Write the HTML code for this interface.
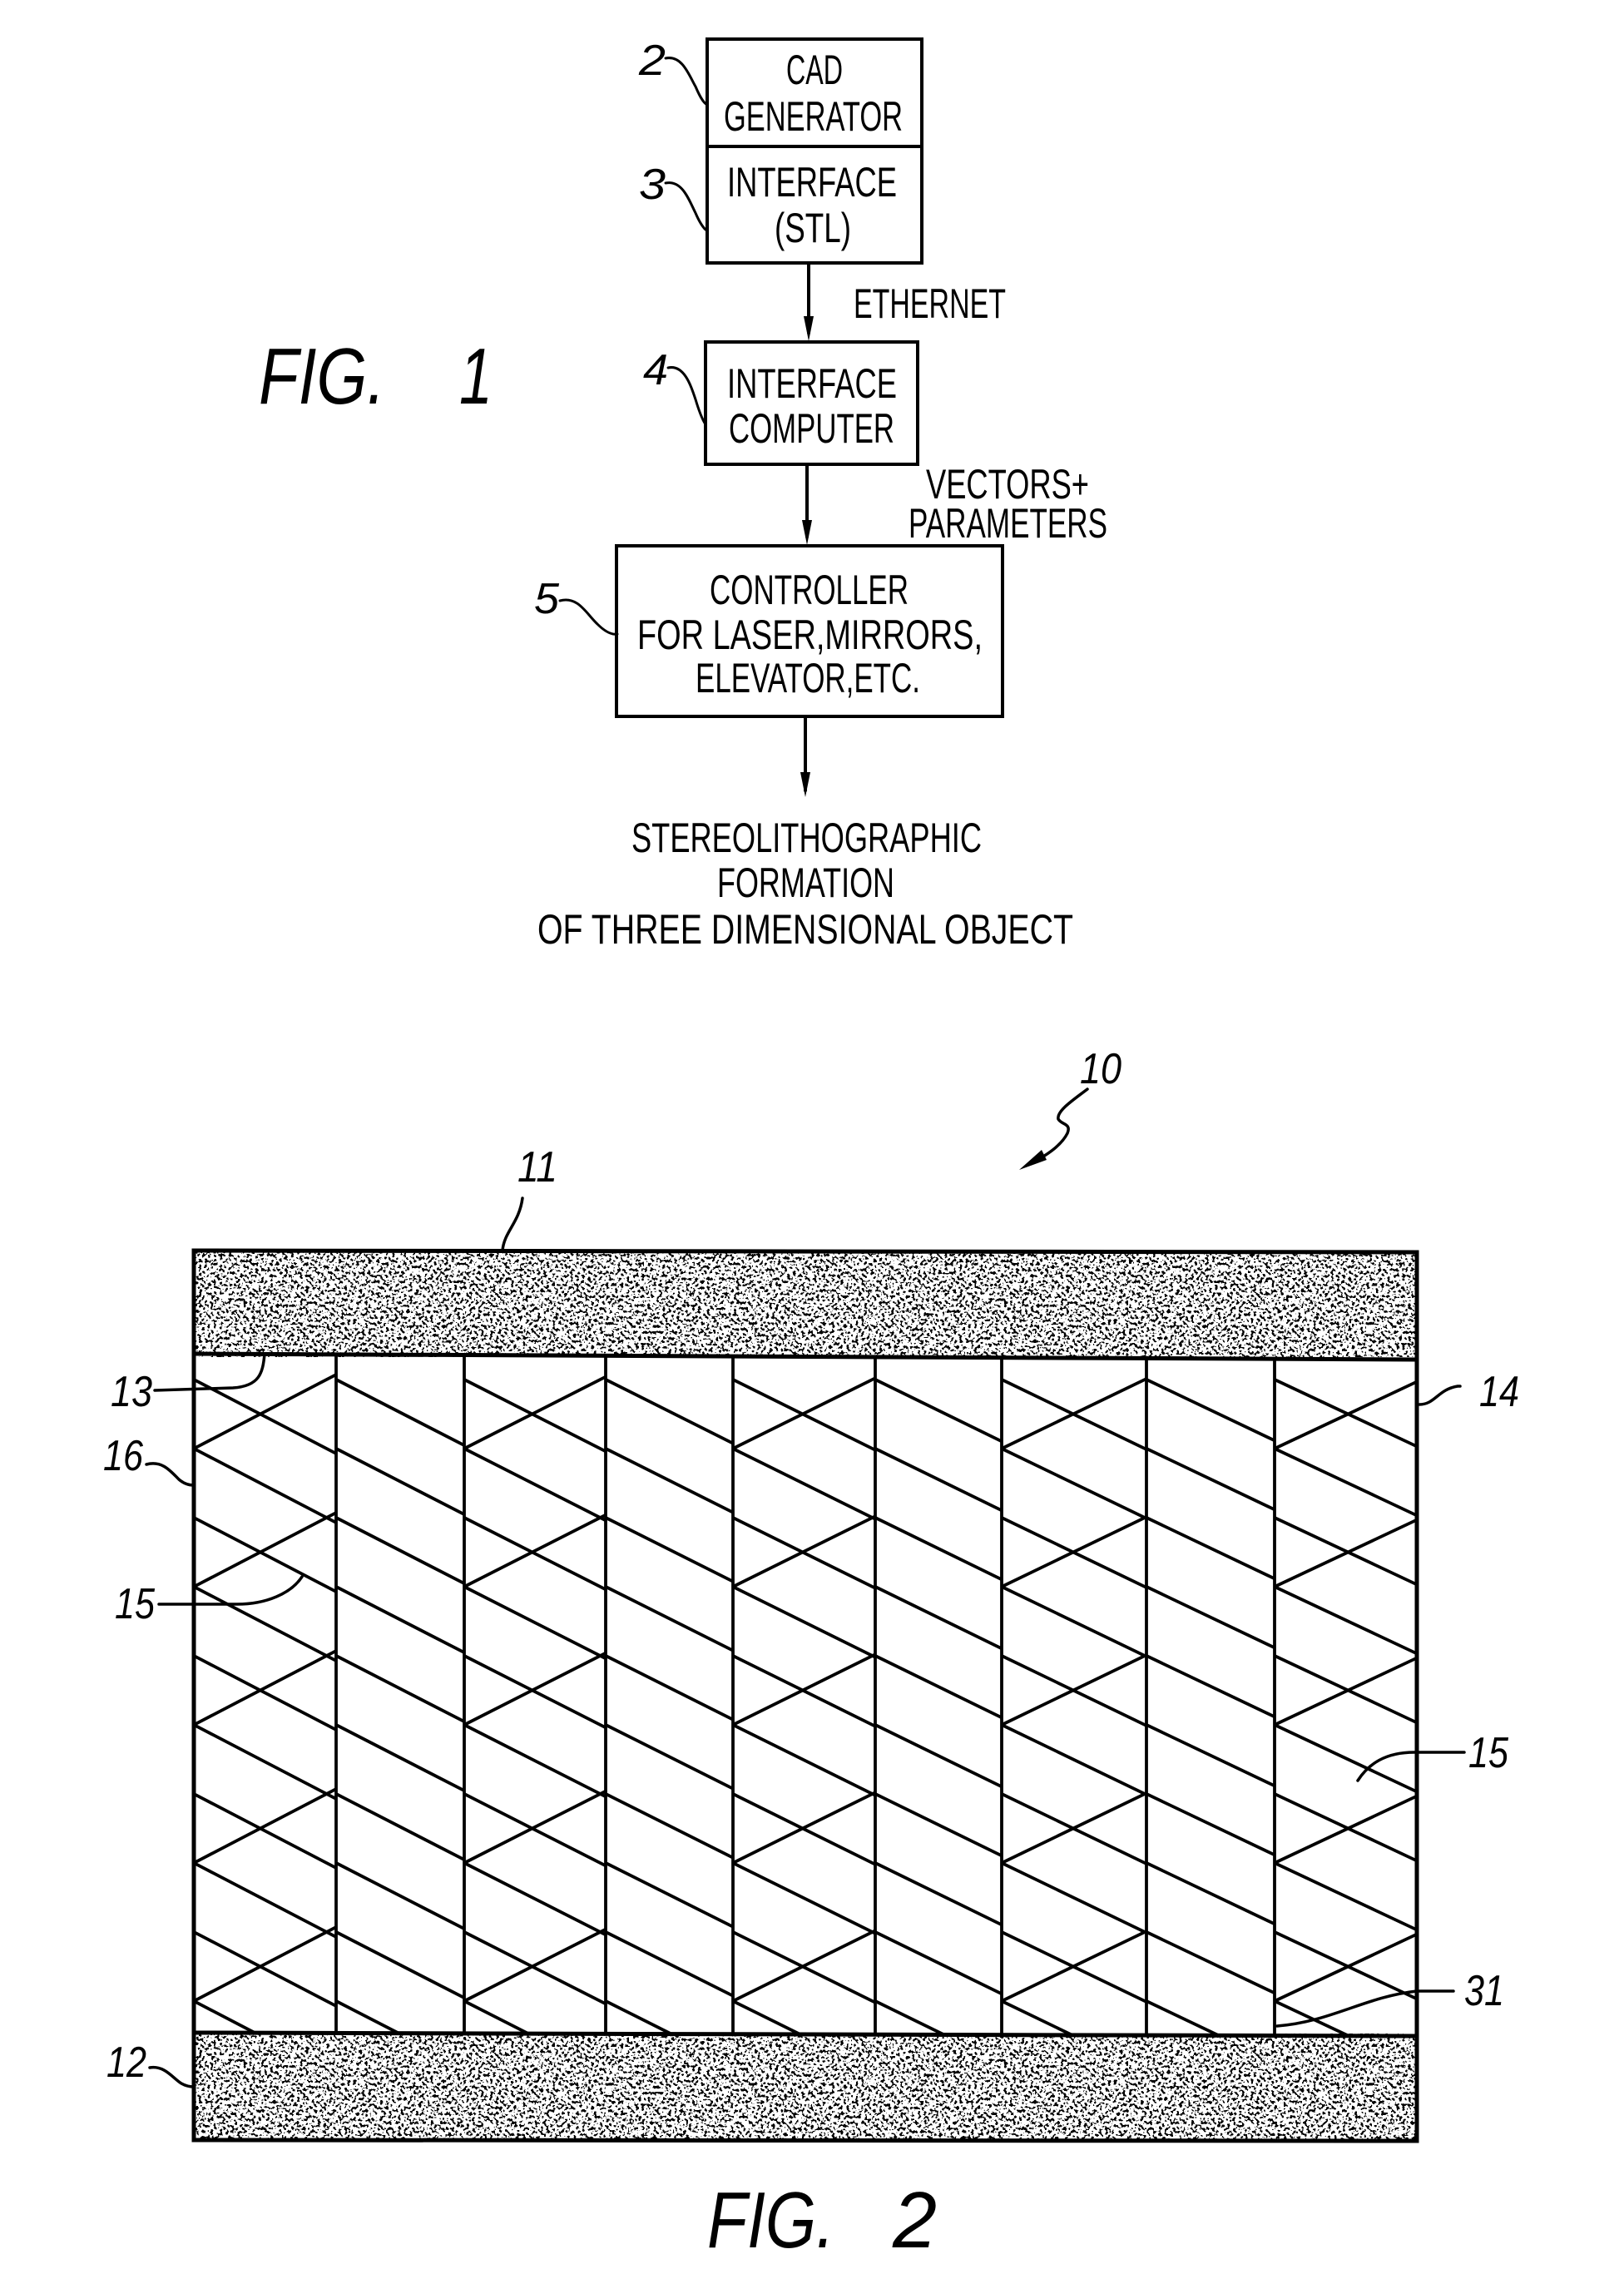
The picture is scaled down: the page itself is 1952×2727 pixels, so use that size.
<!DOCTYPE html>
<html><head><meta charset="utf-8"><style>
html,body{margin:0;padding:0;background:#fff;}
svg{display:block;}
text{font-family:"Liberation Sans",sans-serif;fill:#000;}
</style></head><body>
<svg width="1952" height="2727" viewBox="0 0 1952 2727" xmlns="http://www.w3.org/2000/svg">
<defs>
<filter id="stip" x="0" y="0" width="100%" height="100%">
<feTurbulence type="fractalNoise" baseFrequency="0.28" numOctaves="2" seed="7" result="n"/>
<feColorMatrix in="n" type="matrix" values="0 0 0 0 0  0 0 0 0 0  0 0 0 0 0  -9 0 0 0 4.4"/>
<feComponentTransfer><feFuncA type="discrete" tableValues="0 1"/></feComponentTransfer>
</filter>
<clipPath id="inner"><polygon points="234,1627 1701,1634 1701,2445 234,2442"/></clipPath>
</defs>
<rect width="1952" height="2727" fill="#fff"/>

<g fill="none" stroke="#000" stroke-width="4" stroke-linecap="round">
<rect x="850" y="47" width="258" height="269"/>
<line x1="850" y1="176" x2="1108" y2="176"/>
<rect x="848" y="411" width="255" height="147"/>
<rect x="741" y="656" width="464" height="205"/>
<line x1="972" y1="316" x2="972" y2="400"/>
<line x1="970" y1="558" x2="970" y2="645"/>
<line x1="968" y1="861" x2="968" y2="950"/>
<path d="M800,70 C820,66 828,90 836,104 C842,118 846,124 850,126" stroke-width="3"/>
<path d="M800,220 C820,216 828,240 836,256 C842,270 846,274 848,276" stroke-width="3"/>
<path d="M803,442 C822,438 830,462 836,480 C842,500 846,507 848,510" stroke-width="3"/>
<path d="M673,722 C695,716 705,738 718,750 C728,760 736,763 742,762" stroke-width="3"/>
</g>
<g fill="#000">
<polygon points="972,410 966,380 978,380"/>
<polygon points="970,655 964,625 976,625"/>
<polygon points="968,958 962,928 974,928"/>
</g>

<g font-size="50">
<text x="979" y="101" text-anchor="middle" textLength="68" lengthAdjust="spacingAndGlyphs">CAD</text>
<text x="870" y="157" textLength="215" lengthAdjust="spacingAndGlyphs">GENERATOR</text>
<text x="874" y="236" textLength="204" lengthAdjust="spacingAndGlyphs">INTERFACE</text>
<text x="931" y="291" textLength="92" lengthAdjust="spacingAndGlyphs">(STL)</text>
<text x="1026" y="382" textLength="183" lengthAdjust="spacingAndGlyphs">ETHERNET</text>
<text x="874" y="478" textLength="204" lengthAdjust="spacingAndGlyphs">INTERFACE</text>
<text x="876" y="532" textLength="199" lengthAdjust="spacingAndGlyphs">COMPUTER</text>
<text x="1113" y="599" textLength="196" lengthAdjust="spacingAndGlyphs">VECTORS+</text>
<text x="1092" y="646" textLength="239" lengthAdjust="spacingAndGlyphs">PARAMETERS</text>
<text x="853" y="726" textLength="239" lengthAdjust="spacingAndGlyphs">CONTROLLER</text>
<text x="766" y="780" textLength="415" lengthAdjust="spacingAndGlyphs">FOR  LASER,MIRRORS,</text>
<text x="836" y="832" textLength="270" lengthAdjust="spacingAndGlyphs">ELEVATOR,ETC.</text>
<text x="759" y="1024" textLength="421" lengthAdjust="spacingAndGlyphs">STEREOLITHOGRAPHIC</text>
<text x="862" y="1078" textLength="213" lengthAdjust="spacingAndGlyphs">FORMATION</text>
<text x="646" y="1134" textLength="644" lengthAdjust="spacingAndGlyphs">OF  THREE  DIMENSIONAL  OBJECT</text>
</g>
<g font-style="italic" font-size="52">
<text x="768" y="90" textLength="32" lengthAdjust="spacingAndGlyphs">2</text>
<text x="768" y="239" textLength="32" lengthAdjust="spacingAndGlyphs">3</text>
<text x="773" y="462" textLength="30" lengthAdjust="spacingAndGlyphs">4</text>
<text x="642" y="737" textLength="30" lengthAdjust="spacingAndGlyphs">5</text>
</g>
<g font-style="italic" font-size="96">
<text x="311" y="485" textLength="152" lengthAdjust="spacingAndGlyphs">FIG.</text>
<text x="552" y="485" textLength="40" lengthAdjust="spacingAndGlyphs">1</text>
<text x="850" y="2701" textLength="153" lengthAdjust="spacingAndGlyphs">FIG.</text>
<text x="1073" y="2701" textLength="53" lengthAdjust="spacingAndGlyphs">2</text>
</g>

<rect x="234" y="1503" width="1468" height="128" fill="#000" filter="url(#stip)"/>
<rect x="234" y="2444" width="1468" height="128" fill="#000" filter="url(#stip)"/>
<g fill="none" stroke="#000" stroke-width="5">
<polygon points="233,1503 1703,1505 1703,2573 233,2572"/>
<line x1="233" y1="1627" x2="1703" y2="1634"/>
<line x1="233" y1="2443" x2="1703" y2="2447"/>
</g>

<g id="hatch" clip-path="url(#inner)" stroke="#000" stroke-width="3.8" fill="none"></g>
<script>
(function(){
var xs=[233,404,558,728,881,1052,1204,1378,1532,1703];
var g=document.getElementById('hatch');var ns='http://www.w3.org/2000/svg';
function L(a,b,c,d){var l=document.createElementNS(ns,'line');l.setAttribute('x1',a);l.setAttribute('y1',b);l.setAttribute('x2',c);l.setAttribute('y2',d);g.appendChild(l);}
for(var c=0;c<9;c++){
 var xl=xs[c],xr=xs[c+1],w=xr-xl;
 var m=0.52-0.05*c/8; var S=83; var y0=1658;
 L(xr,1630,xr,2446);
 for(var k=0;k<14;k++){var y=y0+k*S; if(y>2460)break; L(xl,y,xr,y+m*w);}
 if(c%2==0){for(var j=1;j<14;j+=2){var y=y0+j*S; if(y-m*w>2460)break; L(xl,y,xr,y-m*w);}}
}
})();
</script>

<g fill="none" stroke="#000" stroke-width="3.5" stroke-linecap="round">
<path d="M628,1440 C624,1470 606,1480 604,1503"/>
<path d="M1307,1309 C1290,1322 1270,1335 1272,1345 C1276,1352 1288,1350 1283,1362 C1275,1378 1255,1390 1240,1398"/>
<path d="M186,1671 L280,1668 C312,1666 316,1650 318,1627"/>
<path d="M176,1760 C195,1755 205,1768 215,1778 C222,1784 228,1785 233,1785"/>
<path d="M191,1928 L285,1928 C320,1928 350,1915 363,1895"/>
<path d="M1706,1688 C1725,1688 1728,1670 1752,1666 L1755,1666"/>
<path d="M1760,2106 L1700,2106 C1665,2106 1645,2120 1632,2140"/>
<path d="M1747,2393 L1703,2393 C1640,2400 1600,2430 1535,2435"/>
<path d="M180,2485 C198,2482 208,2498 218,2504 C225,2508 230,2508 233,2508"/>
</g>
<polygon points="1225,1406 1252,1382 1258,1394" fill="#000"/>
<g font-style="italic" font-size="52">
<text x="1298" y="1302" textLength="50" lengthAdjust="spacingAndGlyphs">10</text>
<text x="622" y="1420" textLength="48" lengthAdjust="spacingAndGlyphs">11</text>
<text x="133" y="1690" textLength="50" lengthAdjust="spacingAndGlyphs">13</text>
<text x="124" y="1767" textLength="48" lengthAdjust="spacingAndGlyphs">16</text>
<text x="138" y="1945" textLength="48" lengthAdjust="spacingAndGlyphs">15</text>
<text x="1778" y="1690" textLength="48" lengthAdjust="spacingAndGlyphs">14</text>
<text x="1765" y="2124" textLength="48" lengthAdjust="spacingAndGlyphs">15</text>
<text x="1760" y="2410" textLength="48" lengthAdjust="spacingAndGlyphs">31</text>
<text x="128" y="2496" textLength="48" lengthAdjust="spacingAndGlyphs">12</text>
</g>
</svg>
</body></html>
